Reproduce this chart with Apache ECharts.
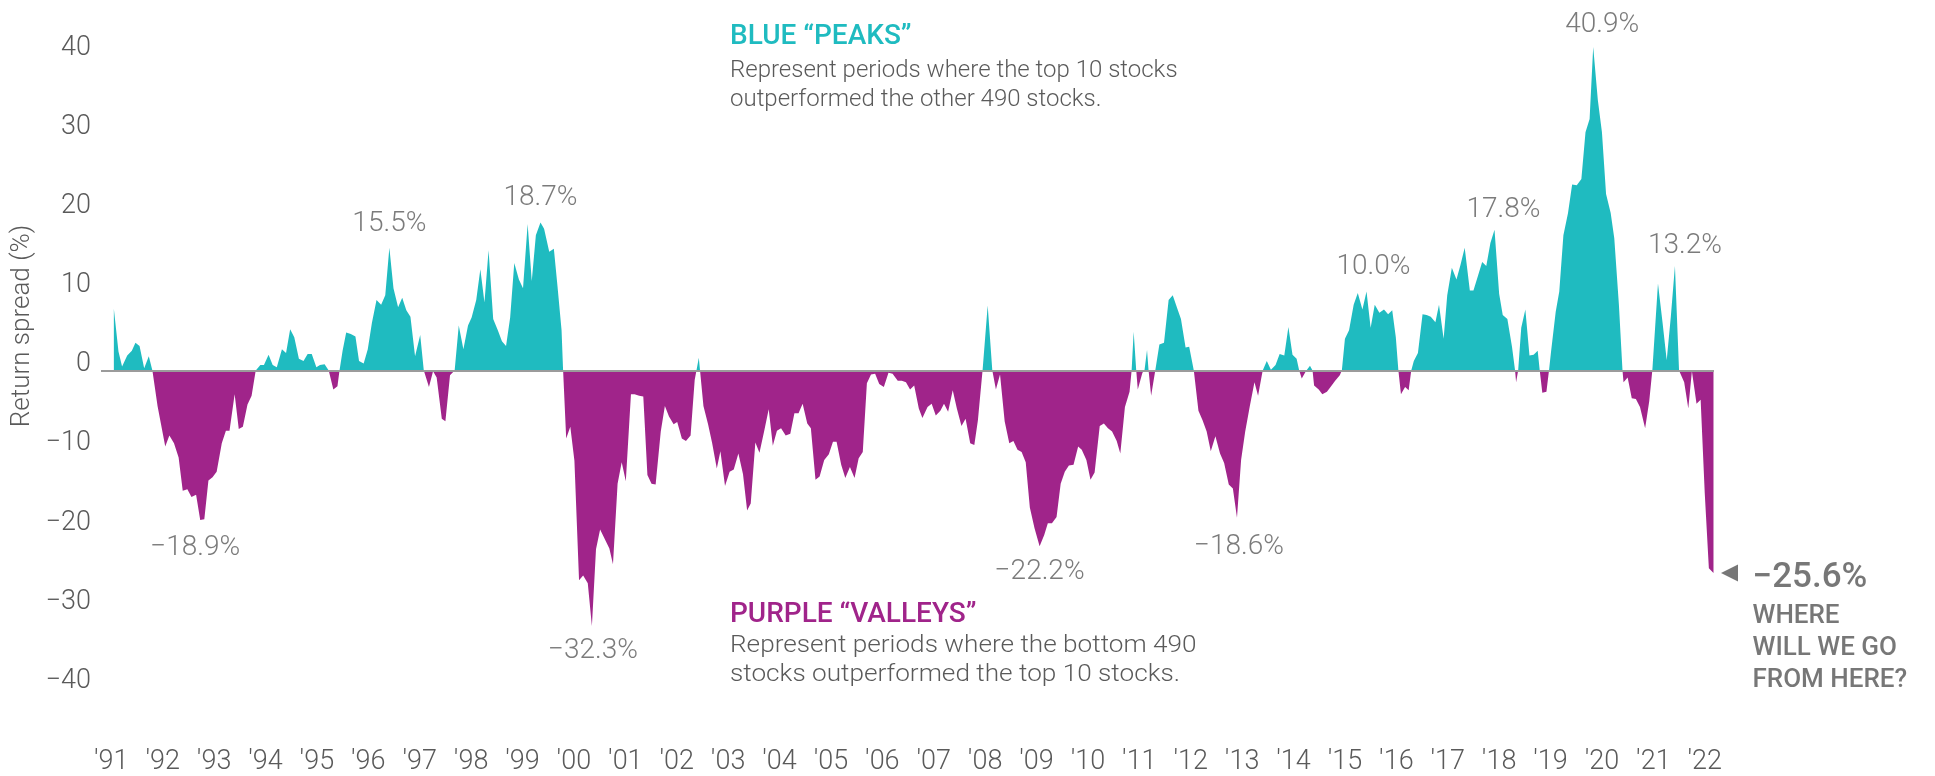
<!DOCTYPE html>
<html>
<head>
<meta charset="utf-8">
<script src="https://cdn.jsdelivr.net/npm/echarts@6/dist/echarts.min.js"></script>
<style>
html,body{margin:0;padding:0;background:#ffffff;}
#chart{width:1935px;height:776px;}
</style>
</head>
<body>
<div id="chart"></div>
<script>
// ---- DATA ----
const dates = [
1991.05,1991.14,1991.21,1991.31,1991.40,1991.47,1991.55,1991.64,1991.73,1991.80,1991.90,
1992.05,1992.13,1992.22,1992.31,1992.39,1992.48,1992.56,1992.65,1992.73,1992.81,1992.89,1992.97,
1993.05,1993.15,1993.23,1993.30,1993.40,1993.48,1993.56,1993.65,1993.73,1993.81,1993.90,1993.97,
1994.06,1994.14,1994.22,1994.32,1994.40,1994.48,1994.56,1994.65,1994.74,1994.82,1994.90,1994.99,
1995.06,1995.15,1995.23,1995.32,1995.40,1995.44,1995.50,1995.57,1995.66,1995.75,1995.82,1995.91,1995.99,
1996.07,1996.16,1996.25,1996.33,1996.41,1996.49,1996.58,1996.66,1996.74,1996.82,1996.91,
1997.01,1997.08,1997.18,1997.26,1997.33,1997.43,1997.50,1997.59,1997.68,1997.76,1997.85,1997.94,
1998.01,1998.10,1998.18,1998.26,1998.34,1998.43,1998.52,1998.60,1998.68,1998.76,1998.84,1998.93,
1999.01,1999.10,1999.18,1999.26,1999.35,1999.42,1999.52,1999.61,1999.68,1999.76,1999.79,1999.85,1999.93,
2000.01,2000.10,2000.18,2000.27,2000.35,2000.43,2000.51,2000.60,2000.69,2000.76,2000.85,2000.93,
2001.01,2001.11,2001.18,2001.27,2001.35,2001.43,2001.51,2001.59,2001.69,2001.77,2001.85,2001.94,
2002.01,2002.10,2002.18,2002.27,2002.35,2002.43,2002.52,2002.61,2002.69,2002.78,2002.85,2002.94,
2003.03,2003.11,2003.20,2003.29,2003.37,2003.44,2003.53,2003.61,2003.70,2003.79,2003.87,2003.95,
2004.03,2004.12,2004.21,2004.29,2004.37,2004.45,2004.54,2004.61,2004.70,2004.78,2004.87,2004.96,
2005.04,2005.11,2005.20,2005.28,2005.37,2005.46,2005.54,2005.62,2005.70,2005.78,2005.86,2005.94,
2006.03,2006.12,2006.20,2006.30,2006.38,2006.46,2006.54,2006.62,2006.71,2006.78,2006.88,2006.96,
2007.04,2007.13,2007.20,2007.28,2007.37,2007.45,2007.54,2007.62,2007.71,2007.79,2007.86,2007.95,
2008.05,2008.14,2008.21,2008.29,2008.38,2008.47,2008.55,2008.63,2008.71,2008.79,2008.87,2008.96,
2009.06,2009.15,2009.22,2009.30,2009.39,2009.47,2009.55,2009.63,2009.72,2009.81,2009.88,2009.97,
2010.05,2010.13,2010.23,2010.31,2010.39,2010.47,2010.56,2010.63,2010.72,2010.81,2010.85,2010.89,2010.94,2010.97,
2011.06,2011.10,2011.15,2011.18,2011.23,2011.31,2011.39,2011.48,2011.57,2011.65,2011.73,2011.81,2011.90,2011.97,
2012.06,2012.15,2012.23,2012.31,2012.39,2012.48,2012.57,2012.65,2012.74,2012.82,2012.90,2012.98,
2013.06,2013.15,2013.24,2013.31,2013.40,2013.48,2013.56,2013.65,2013.73,2013.82,2013.90,2013.98,
2014.06,2014.11,2014.16,2014.24,2014.32,2014.37,2014.40,2014.49,2014.56,2014.65,2014.72,2014.81,2014.90,2014.94,
2015.00,2015.08,2015.17,2015.25,2015.34,2015.42,2015.50,2015.58,2015.67,2015.76,2015.84,2015.92,2015.99,
2016.04,2016.09,2016.17,2016.24,2016.29,2016.34,2016.42,2016.51,2016.59,2016.67,2016.76,2016.83,2016.92,2016.99,
2017.08,2017.17,2017.25,2017.33,2017.43,2017.50,2017.59,2017.67,2017.75,2017.83,2017.91,
2018.00,2018.07,2018.16,2018.25,2018.31,2018.33,2018.37,2018.43,2018.51,2018.59,2018.67,2018.75,2018.79,2018.84,2018.92,2018.97,
2019.01,2019.10,2019.17,2019.25,2019.34,2019.42,2019.51,2019.60,2019.68,2019.76,2019.83,2019.92,
2020.00,2020.08,2020.17,2020.24,2020.33,2020.40,2020.42,2020.50,2020.58,2020.66,2020.74,2020.84,2020.92,2020.98,
2021.09,2021.18,2021.26,2021.34,2021.42,2021.50,2021.60,2021.68,2021.75,2021.84,2021.92,
2022.00,2022.08,2022.17
];
const spread = [
7.8,2.4,0.5,1.9,2.5,3.5,3.1,0.3,1.8,0,-4.5,
-9.6,-8.2,-9.2,-11.0,-15.2,-15.0,-16.0,-15.7,-18.9,-18.8,-13.9,-13.5,
-12.8,-9.2,-7.6,-7.6,-3.0,-7.4,-7.1,-4.3,-3.2,0,0.7,0.7,
2.0,0.7,0.4,2.7,2.2,5.2,4.2,1.5,1.2,2.1,2.1,0.4,
0.7,0.8,0,-2.4,-2.0,0,2.5,4.8,4.6,4.3,1.2,0.9,2.7,
6.0,8.9,8.3,9.5,15.5,10.4,8.0,9.2,7.6,6.8,1.8,
4.5,0,-2.1,-0.1,-0.9,-6.1,-6.4,-0.6,0,5.7,2.7,5.7,
6.7,8.9,12.8,8.6,15.2,6.5,5.1,3.7,3.1,6.7,13.6,11.5,
10.4,18.5,11.3,17.1,18.7,17.9,15.0,15.4,10.7,5.1,0,-8.6,-7.1,
-11.4,-26.5,-25.9,-26.9,-32.3,-22.6,-20.1,-21.3,-22.5,-24.5,-14.3,-11.6,
-14.0,-3.0,-3.0,-3.2,-3.3,-13.2,-14.3,-14.4,-7.7,-4.5,-5.8,-6.8,
-6.5,-8.6,-8.9,-8.2,-1.2,1.6,-4.5,-6.8,-9.2,-12.4,-10.2,-14.6,
-12.8,-12.5,-10.5,-13.1,-17.7,-16.8,-9.1,-10.4,-7.7,-4.9,-9.5,-7.6,
-7.3,-8.2,-8.0,-5.4,-5.4,-4.2,-6.7,-7.3,-13.8,-13.4,-11.3,-10.6,
-9.0,-9.0,-11.9,-13.6,-12.2,-13.6,-11.1,-10.3,-1.6,-0.5,-0.4,-1.7,
-2.1,-0.3,-0.4,-1.3,-1.3,-1.5,-2.4,-1.9,-4.8,-6.0,-4.6,-4.2,
-5.7,-5.1,-4.2,-5.2,-2.5,-4.8,-7.0,-6.1,-9.2,-9.4,-6.3,0,
8.2,0,-2.4,-0.5,-6.4,-9.2,-8.9,-10.0,-10.3,-11.6,-17.3,-19.9,
-22.2,-20.8,-19.3,-19.3,-18.5,-14.3,-12.8,-12.0,-11.9,-9.6,-10.0,-11.3,
-13.8,-12.9,-7.0,-6.7,-7.3,-7.7,-8.9,-10.5,-4.6,-2.7,0,4.9,0,-2.4,
-0.3,0,2.6,0,-3.2,0,3.3,3.5,8.9,9.5,8.0,6.5,2.9,3.0,
0,-5.1,-6.3,-7.7,-10.2,-8.3,-10.5,-11.7,-14.4,-14.9,-18.6,-11.3,
-7.7,-4.5,-1.5,-3.2,0,1.2,0.1,0.7,2.1,1.9,5.5,2.0,
1.5,0,-1.0,-0.1,0.6,0,-1.9,-2.4,-3.0,-2.7,-2.1,-1.3,-0.6,0,
4.0,5.1,8.3,9.8,7.7,10.0,5.4,8.3,7.3,7.7,7.1,7.6,4.2,
0,-3.0,-2.1,-2.5,0,1.2,2.2,7.1,7.0,6.8,6.1,8.3,4.0,9.5,
13.0,11.5,13.4,15.5,10.1,10.1,12.0,13.7,13.2,16.1,17.8,
9.7,7.0,6.5,3.0,0,-1.5,0,5.4,7.7,1.9,2.0,2.5,0,-2.8,-2.7,0,
2.4,7.4,10.0,17.1,19.9,23.5,23.4,24.2,30.1,31.8,40.9,34.2,
30.1,22.3,19.9,16.7,8.3,0,-1.5,-0.9,-3.5,-3.6,-4.6,-7.3,-3.9,0,
11.0,6.0,1.3,6.8,13.2,0,-1.5,-4.8,-0.1,-4.2,-3.7,
-15.5,-25.0,-25.6
];
const yearTicks = [1991,1992,1993,1994,1995,1996,1997,1998,1999,2000,2001,2002,2003,2004,2005,2006,
  2007,2008,2009,2010,2011,2012,2013,2014,2015,2016,2017,2018,2019,2020,2021,2022];
const yTicks = [-40,-30,-20,-10,0,10,20,30,40];
const peakDates  = [1992.73,1996.41,1999.35,2000.35,2009.06,2012.90,2015.42,2017.91,2019.83,2021.42];
const peakValues = [-18.9,15.5,18.7,-32.3,-22.2,-18.6,10.0,17.8,40.9,13.2];
const latestDate = 2022.17;
const latestValue = -25.6;
const latestNote = ['WHERE', 'WILL WE GO', 'FROM HERE?'];
const yAxisTitle = 'Return spread (%)';
const peaksTitle = 'BLUE \u201CPEAKS\u201D';
const peaksText = ['Represent periods where the top 10 stocks', 'outperformed the other 490 stocks.'];
const valleysTitle = 'PURPLE \u201CVALLEYS\u201D';
const valleysText = ['Represent periods where the bottom 490', 'stocks outperformed the top 10 stocks.'];

// ---- STYLE ----
const CYAN = '#1FBBC0';
const PURPLE = '#A0248A';
const GREY = '#5A5A5A';
const DARK = '#555555';
const FONT = 'Roboto';
// label shift (px) of each peak annotation from its point
const peakLabelShift = [[-5,28],[0,-24],[0,-25],[1,25],[0,26],[2,29],[7,-24],[9,-20],[9,-22],[10,-20]];

function fmtPct(v) { return (v < 0 ? '\u2212' : '') + Math.abs(v).toFixed(1) + '%'; }
function fmtTick(v) { return v < 0 ? '\u2212' + Math.abs(v) : String(v); }

const seriesData = dates.map((d, i) => [d, spread[i]]);
const peakData = peakDates.map((d, i) => ({
  value: [d, peakValues[i]],
  label: { offset: peakLabelShift[i] }
}));

const chart = echarts.init(document.getElementById('chart'), null, { renderer: 'canvas' });
chart.setOption({
  animation: false,
  backgroundColor: '#ffffff',
  grid: { left: 101, right: 221, top: 54, bottom: 84, containLabel: false },
  xAxis: {
    type: 'value', min: 1990.8, max: 2022.18,
    axisLine: { show: false }, axisTick: { show: false }, splitLine: { show: false },
    axisLabel: {
      customValues: yearTicks,
      formatter: v => "'" + String(Math.round(v)).slice(2),
      margin: 62, color: GREY, fontFamily: FONT, fontSize: 27, fontWeight: 300
    }
  },
  yAxis: {
    type: 'value', min: -40, max: 40, interval: 10,
    axisLine: { show: false }, axisTick: { show: false }, splitLine: { show: false },
    axisLabel: {
      customValues: yTicks,
      formatter: fmtTick, margin: 10, color: GREY, fontFamily: FONT, fontSize: 27, fontWeight: 300,
      verticalAlign: 'bottom', lineHeight: 12
    }
  },
  visualMap: {
    show: false, type: 'piecewise', seriesIndex: 0, dimension: 1,
    pieces: [ { gt: 0, lte: 100, color: CYAN }, { gte: -100, lte: 0, color: PURPLE } ],
    outOfRange: { color: PURPLE }
  },
  series: [
    {
      type: 'line', data: seriesData, showSymbol: false, symbol: 'none', clip: false,
      lineStyle: { width: 0 }, areaStyle: { opacity: 1 }, silent: true,
      markLine: {
        silent: true, symbol: ['none', 'none'], label: { show: false },
        lineStyle: { color: '#9B9B9B', width: 2, type: 'solid' },
        data: [ { yAxis: 0 } ]
      },
      z: 2
    },
    {
      type: 'scatter', data: peakData, symbolSize: 0, silent: true, z: 5, clip: false,
      label: {
        show: true, position: 'inside',
        formatter: p => fmtPct(p.value[1]),
        color: GREY, fontFamily: FONT, fontSize: 28, fontWeight: 300
      }
    },
    {
      type: 'scatter', data: [[latestDate, latestValue]], symbol: 'triangle', symbolRotate: 90, clip: false,
      symbolSize: 17, symbolOffset: [16, 0], itemStyle: { color: DARK }, silent: true, z: 5
    },
    {
      type: 'scatter', data: [[latestDate, latestValue]], symbolSize: 0, silent: true, z: 5, clip: false,
      label: {
        show: true, position: 'inside', align: 'left', verticalAlign: 'top', offset: [39, -17],
        formatter: p => '{a|' + fmtPct(p.value[1]) + '}\n' + latestNote.map(s => '{b|' + s + '}').join('\n'),
        rich: {
          a: { fontFamily: FONT, fontSize: 35, fontWeight: 500, color: DARK, lineHeight: 44 },
          b: { fontFamily: FONT, fontSize: 26, fontWeight: 500, color: DARK, lineHeight: 32 }
        }
      }
    }
  ],
  graphic: [
    { type: 'text', x: 22, y: 326, rotation: Math.PI / 2,
      style: { text: yAxisTitle, fill: GREY, fontFamily: FONT, fontSize: 26, fontWeight: 300, align: 'center', verticalAlign: 'middle' } },
    { type: 'text', x: 730, y: 37,
      style: { text: peaksTitle, fill: CYAN, fontFamily: FONT, fontSize: 28, fontWeight: 500, align: 'left', verticalAlign: 'middle' } },
    { type: 'text', x: 730, y: 56,
      style: { text: peaksText.join('\n'), fill: GREY, fontFamily: FONT, fontSize: 24, fontWeight: 300, lineHeight: 29, align: 'left', verticalAlign: 'top' } },
    { type: 'text', x: 730, y: 615,
      style: { text: valleysTitle, fill: PURPLE, fontFamily: FONT, fontSize: 28, fontWeight: 500, align: 'left', verticalAlign: 'middle' } },
    { type: 'text', x: 730, y: 631, scaleX: 1.09,
      style: { text: valleysText.join('\n'), fill: GREY, fontFamily: FONT, fontSize: 24, fontWeight: 300, lineHeight: 29, align: 'left', verticalAlign: 'top' } }
  ]
});
</script>
</body>
</html>
